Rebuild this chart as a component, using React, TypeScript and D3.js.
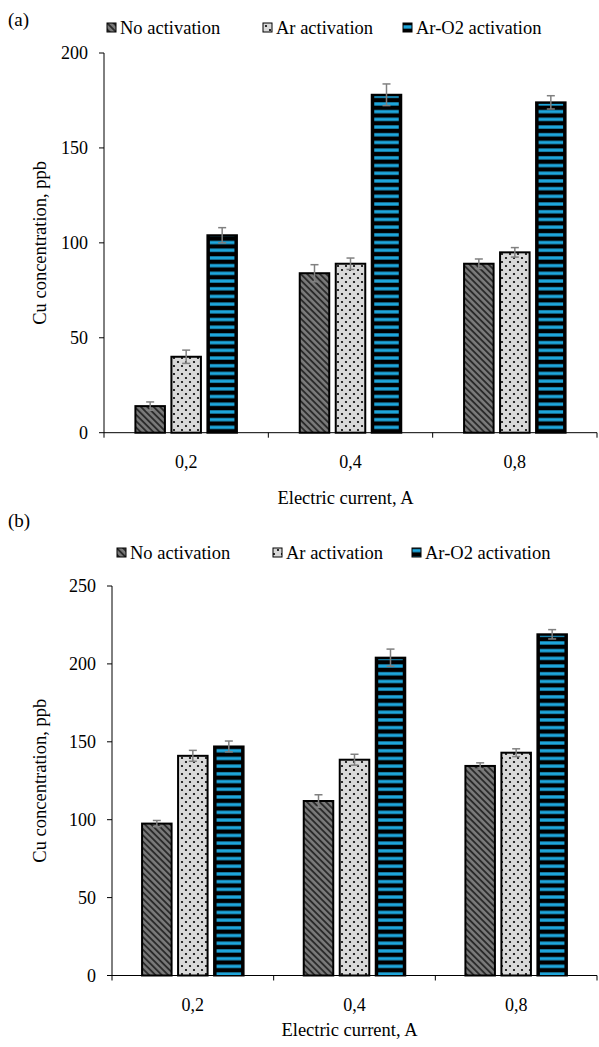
import React from 'react';
import * as d3 from 'd3';

const categories = ['0,2', '0,4', '0,8'];
const seriesNames = ['No activation', 'Ar activation', 'Ar-O2 activation'];

// panel (a)
const aNoAct = [14, 84, 89];
const aNoActErr = [2.2, 4.5, 2.5];
const aAr = [40, 89, 95];
const aArErr = [3.5, 3, 2.5];
const aArO2 = [104, 178, 174];
const aArO2Err = [4, 5.7, 3.5];
const aTicks = [0, 50, 100, 150, 200];

// panel (b)
const bNoAct = [97.5, 112, 134.5];
const bNoActErr = [2, 4, 2];
const bAr = [141, 138.5, 143];
const bArErr = [3.5, 3.5, 2.5];
const bArO2 = [147, 204, 219];
const bArO2Err = [3.5, 5.5, 3];
const bTicks = [0, 50, 100, 150, 200, 250];

const FONT = 'Liberation Serif, Tinos, Times New Roman, DejaVu Serif, serif';
const patternIds = ['pat-noact', 'pat-ar', 'pat-aro2'];

function Panel({ label, values, errors, ticks, left, right, top, bottom, legendY, legendX, labelY, titleY }) {
  const y = d3.scaleLinear().domain([0, ticks[ticks.length - 1]]).range([bottom, top]);
  const x0 = d3.scaleBand().domain(categories).range([left, right]).padding(0);
  const x1 = d3.scaleBand().domain(seriesNames).range([0, 108]).paddingInner(0.18).paddingOuter(0.09);
  const bw = x1.bandwidth();
  const boundaries = categories.map((c) => x0(c)).concat([right]);

  return (
    <g>
      <text x={8} y={labelY} fontSize={19}>{label}</text>

      {/* legend */}
      {seriesNames.map((s, i) => (
        <g key={s}>
          <rect x={legendX[i]} y={legendY - 5} width={9} height={9} fill={`url(#${patternIds[i]})`} stroke="#000" strokeWidth={1} />
          <text x={legendX[i] + 13} y={legendY + 6} fontSize={18.5}>{s}</text>
        </g>
      ))}

      {/* bars */}
      {categories.map((c, ci) => {
        const gx = x0(c) + x0.bandwidth() / 2 - 54;
        return (
          <g key={c}>
            {seriesNames.map((s, si) => {
              const v = values[si][ci];
              const e = errors[si][ci];
              const bx = gx + x1(s);
              const by = y(v);
              const bh = bottom - by;
              const cx = bx + bw / 2;
              return (
                <g key={s}>
                  {si === 2 ? (
                    <>
                      <rect x={bx} y={by} width={bw} height={bh} fill="#000" stroke="#000" strokeWidth={2} />
                      <rect x={bx + 2.5} y={by + 1.5} width={bw - 5} height={bh - 1.5} fill={`url(#${patternIds[2]})`} />
                    </>
                  ) : (
                    <rect x={bx} y={by} width={bw} height={bh} fill={`url(#${patternIds[si]})`} stroke="#000" strokeWidth={2} />
                  )}
                  <line x1={cx} x2={cx} y1={y(v + e)} y2={y(v - e)} stroke="#808080" strokeWidth={1.5} />
                  <line x1={cx - 4} x2={cx + 4} y1={y(v + e)} y2={y(v + e)} stroke="#808080" strokeWidth={1.5} />
                  <line x1={cx - 4} x2={cx + 4} y1={y(v - e)} y2={y(v - e)} stroke="#808080" strokeWidth={1.5} />
                </g>
              );
            })}
          </g>
        );
      })}

      {/* y axis */}
      <line x1={left} x2={left} y1={top} y2={bottom} stroke="#000" strokeWidth={1} />
      {ticks.map((t) => (
        <g key={t}>
          <line x1={left - 5} x2={left} y1={y(t)} y2={y(t)} stroke="#000" strokeWidth={1} />
          <text x={left - 16} y={y(t) + 6} textAnchor="end" fontSize={18}>{t}</text>
        </g>
      ))}

      {/* x axis */}
      <line x1={left} x2={right} y1={bottom} y2={bottom} stroke="#000" strokeWidth={1} />
      {boundaries.map((bx, i) => (
        <line key={i} x1={bx} x2={bx} y1={bottom} y2={bottom + 5} stroke="#000" strokeWidth={1} />
      ))}
      {categories.map((c) => (
        <text key={c} x={x0(c) + x0.bandwidth() / 2} y={bottom + 35} textAnchor="middle" fontSize={18}>{c}</text>
      ))}

      <text x={(left + right) / 2 - 5} y={titleY} textAnchor="middle" fontSize={18.5}>Electric current, A</text>
      <text transform={`translate(46,${(top + bottom) / 2}) rotate(-90)`} textAnchor="middle" fontSize={18.5}>Cu concentration, ppb</text>
    </g>
  );
}

export default function App() {
  return (
    <svg width={599} height={1047} fontFamily={FONT} style={{ position: 'absolute', left: 0, top: 0, background: '#fff', fontFamily: FONT }}>
      <defs>
        <pattern id="pat-noact" width={4.5} height={4.5} patternUnits="userSpaceOnUse" patternTransform="rotate(-45)">
          <rect width={4.5} height={4.5} fill="#7a7a7a" />
          <line x1={1} x2={1} y1={0} y2={4.5} stroke="#262626" strokeWidth={1.8} />
        </pattern>
        <pattern id="pat-ar" width={8} height={8} patternUnits="userSpaceOnUse">
          <rect width={8} height={8} fill="#d9d9d9" />
          <circle cx={2} cy={2} r={1.1} fill="#000" />
          <circle cx={6} cy={6} r={1.1} fill="#000" />
        </pattern>
        <pattern id="pat-aro2" width={10} height={7.7} patternUnits="userSpaceOnUse">
          <rect width={10} height={7.7} fill="#000" />
          <rect y={2.2} width={10} height={3.3} fill="#1ea7dd" />
        </pattern>
      </defs>
      <Panel
        label="(a)"
        labelY={26}
        titleY={504}
        values={[aNoAct, aAr, aArO2]}
        errors={[aNoActErr, aArErr, aArO2Err]}
        ticks={aTicks}
        left={104}
        right={597}
        top={53}
        bottom={432.7}
        legendY={28}
        legendX={[107, 263, 403]}
      />
      <Panel
        label="(b)"
        labelY={527}
        titleY={1036}
        values={[bNoAct, bAr, bArO2]}
        errors={[bNoActErr, bArErr, bArO2Err]}
        ticks={bTicks}
        left={112}
        right={597}
        top={586}
        bottom={975.5}
        legendY={553}
        legendX={[117, 273, 412]}
      />
    </svg>
  );
}
